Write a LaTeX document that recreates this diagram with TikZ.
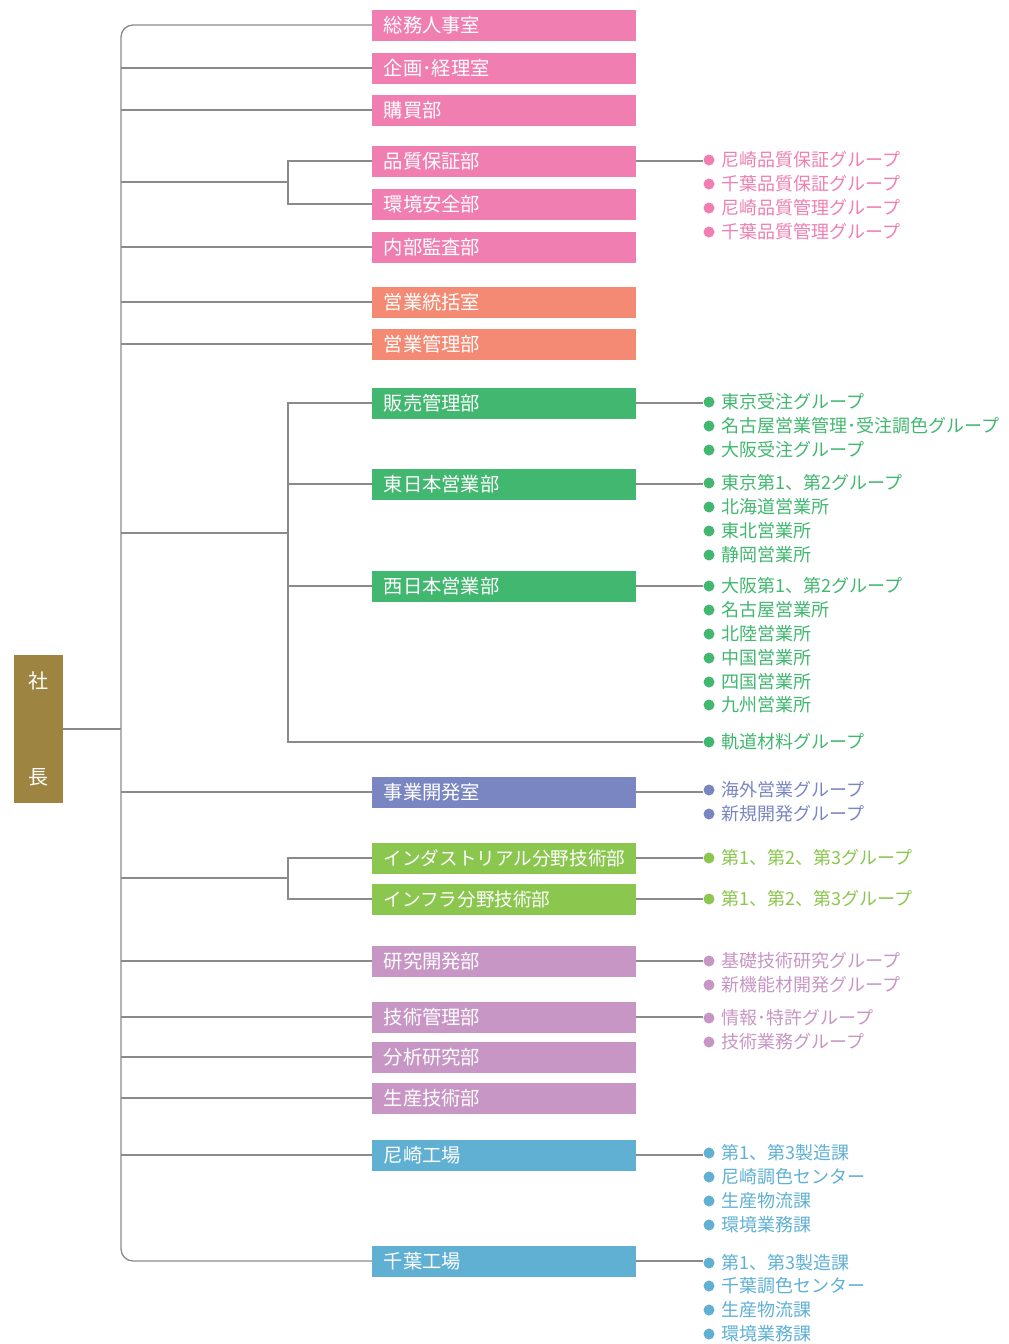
\documentclass[tikz,border=0pt]{standalone}
\usepackage{fontspec}
\setmainfont{Noto Sans CJK JP}
\definecolor{pinkc}{HTML}{F07EB1}
\definecolor{salmonc}{HTML}{F48A73}
\definecolor{greenc}{HTML}{41B76F}
\definecolor{indigoc}{HTML}{7A86C2}
\definecolor{limec}{HTML}{8BC64F}
\definecolor{purplec}{HTML}{C896C5}
\definecolor{bluec}{HTML}{5FB0D3}
\definecolor{goldc}{HTML}{9D8440}
\definecolor{linec}{HTML}{8A8A8A}
\newcommand\bitem[4]{%
  \node[bdot=#2] (#1) at (709,#3) {};
  \node[itm=#2] (#1t) at (721,#3) {#4};}
\begin{document}
\begin{tikzpicture}[x=1pt,y=-1pt,
  box/.style={fill=#1, text=white, minimum height=31pt, text width=241pt,
    inner xsep=11.5pt, inner ysep=0pt, align=left, anchor=west,
    font=\fontsize{19.3}{22}\selectfont},
  bdot/.style={circle, fill=#1, inner sep=0pt, minimum size=11pt},
  itm/.style={text=#1, anchor=west, inner sep=0pt, font=\fontsize{18}{21}\selectfont},
  conn/.style={draw=linec, line width=1.3pt}]
\useasboundingbox (0,0) rectangle (1009,1344);
% president
\node[fill=goldc, text=white, minimum width=49pt, minimum height=148pt, inner sep=0pt,
  align=center, font=\fontsize{20}{96}\selectfont] (pres) at (38.5,729) {社\\長};
\coordinate (tx) at (121,0);
\coordinate (bx) at (288,0);
% boxes
\node[box=pinkc] (b1) at (372,25) {総務人事室};
\node[box=pinkc] (b2) at (372,68) {企画･経理室};
\node[box=pinkc] (b3) at (372,110) {購買部};
\node[box=pinkc] (b4) at (372,161) {品質保証部};
\node[box=pinkc] (b5) at (372,204) {環境安全部};
\node[box=pinkc] (b6) at (372,247) {内部監査部};
\node[box=salmonc] (b7) at (372,302) {営業統括室};
\node[box=salmonc] (b8) at (372,344) {営業管理部};
\node[box=greenc] (b9) at (372,403) {販売管理部};
\node[box=greenc] (b10) at (372,484) {東日本営業部};
\node[box=greenc] (b11) at (372,586) {西日本営業部};
\node[box=indigoc] (b12) at (372,792) {事業開発室};
\node[box=limec, font=\fontsize{18.6}{22}\selectfont] (b13) at (372,858) {インダストリアル分野技術部};
\node[box=limec, font=\fontsize{18.6}{22}\selectfont] (b14) at (372,899) {インフラ分野技術部};
\node[box=purplec] (b15) at (372,961) {研究開発部};
\node[box=purplec] (b16) at (372,1017) {技術管理部};
\node[box=purplec] (b17) at (372,1057) {分析研究部};
\node[box=purplec] (b18) at (372,1098) {生産技術部};
\node[box=bluec] (b19) at (372,1155) {尼崎工場};
\node[box=bluec] (b20) at (372,1261) {千葉工場};
% lists
\bitem{q1}{pinkc}{160}{尼崎品質保証グループ}
\bitem{q2}{pinkc}{184}{千葉品質保証グループ}
\bitem{q3}{pinkc}{208}{尼崎品質管理グループ}
\bitem{q4}{pinkc}{232}{千葉品質管理グループ}
\bitem{s1}{greenc}{402}{東京受注グループ}
\bitem{s2}{greenc}{426}{名古屋営業管理･受注調色グループ}
\bitem{s3}{greenc}{450}{大阪受注グループ}
\bitem{e1}{greenc}{483}{東京第1、第2グループ}
\bitem{e2}{greenc}{507}{北海道営業所}
\bitem{e3}{greenc}{531}{東北営業所}
\bitem{e4}{greenc}{555}{静岡営業所}
\bitem{w1}{greenc}{586}{大阪第1、第2グループ}
\bitem{w2}{greenc}{610}{名古屋営業所}
\bitem{w3}{greenc}{634}{北陸営業所}
\bitem{w4}{greenc}{658}{中国営業所}
\bitem{w5}{greenc}{682}{四国営業所}
\bitem{w6}{greenc}{705}{九州営業所}
\bitem{r1}{greenc}{742}{軌道材料グループ}
\bitem{d1}{indigoc}{790}{海外営業グループ}
\bitem{d2}{indigoc}{814}{新規開発グループ}
\bitem{i1}{limec}{858}{第1、第2、第3グループ}
\bitem{f1}{limec}{899}{第1、第2、第3グループ}
\bitem{k1}{purplec}{961}{基礎技術研究グループ}
\bitem{k2}{purplec}{985}{新機能材開発グループ}
\bitem{t1}{purplec}{1018}{情報･特許グループ}
\bitem{t2}{purplec}{1042}{技術業務グループ}
\bitem{a1}{bluec}{1153}{第1、第3製造課}
\bitem{a2}{bluec}{1177}{尼崎調色センター}
\bitem{a3}{bluec}{1201}{生産物流課}
\bitem{a4}{bluec}{1225}{環境業務課}
\bitem{c1}{bluec}{1263}{第1、第3製造課}
\bitem{c2}{bluec}{1286}{千葉調色センター}
\bitem{c3}{bluec}{1310}{生産物流課}
\bitem{c4}{bluec}{1334}{環境業務課}
% trunk
\draw[conn, rounded corners=12pt] (b1.west) -- (b1.west -| tx) -- (b20.west -| tx) -- (b20.west);
\draw[conn] (pres.east) -- (pres.east -| tx);
\foreach \b in {b2,b3,b6,b7,b8,b12,b15,b16,b17,b18,b19}
  \draw[conn] (\b.west -| tx) -- (\b.west);
% quality bracket
\coordinate (qj) at (288,182);
\draw[conn] (qj -| tx) -- (qj);
\draw[conn] (b4.west) -- (b4.west -| bx) -- (b5.west -| bx) -- (b5.west);
% sales bracket
\coordinate (sj) at (288,533);
\draw[conn] (sj -| tx) -- (sj);
\draw[conn] (b9.west) -- (b9.west -| bx) -- (r1.west -| bx) -- (r1.west);
\draw[conn] (b10.west -| bx) -- (b10.west);
\draw[conn] (b11.west -| bx) -- (b11.west);
% tech bracket
\coordinate (tj) at (288,878);
\draw[conn] (tj -| tx) -- (tj);
\draw[conn] (b13.west) -- (b13.west -| bx) -- (b14.west -| bx) -- (b14.west);
% right connectors
\foreach \b/\d in {b4/q1,b9/s1,b10/e1,b11/w1,b12/d1,b13/i1,b14/f1,b15/k1,b16/t1,b19/a1,b20/c1}
  \draw[conn] (\b.east) -- (\b.east -| \d.west);
\end{tikzpicture}
\end{document}
